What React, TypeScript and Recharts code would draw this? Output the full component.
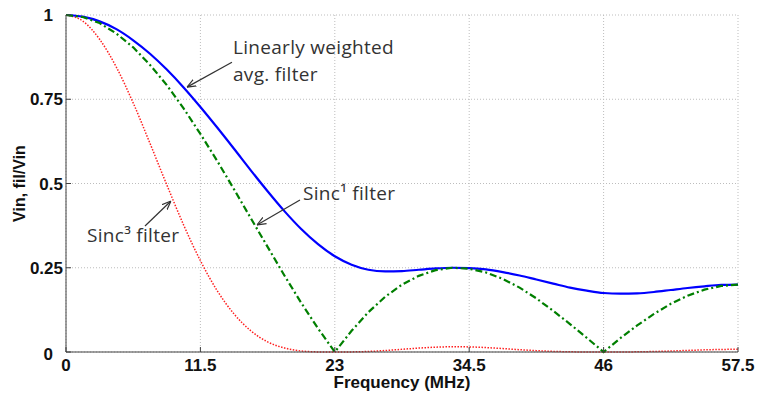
import React from 'react';
import { LineChart, Line, XAxis, YAxis, CartesianGrid, ReferenceLine } from 'recharts';

const freq = [0, 1.4375, 2.875, 4.3125, 5.75, 7.1875, 8.625, 10.0625, 11.5, 12.9375, 14.375, 15.8125, 17.25, 18.6875, 20.125, 21.5625, 23, 24.4375, 25.875, 27.3125, 28.75, 30.1875, 31.625, 33.0625, 34.5, 35.9375, 37.375, 38.8125, 40.25, 41.6875, 43.125, 44.5625, 46, 47.4375, 48.875, 50.3125, 51.75, 53.1875, 54.625, 56.0625, 57.5];
const linWeighted = [1, 0.995, 0.981, 0.958, 0.925, 0.885, 0.838, 0.785, 0.727, 0.666, 0.603, 0.539, 0.477, 0.418, 0.365, 0.32, 0.284, 0.259, 0.244, 0.239, 0.24, 0.244, 0.248, 0.25, 0.249, 0.245, 0.237, 0.227, 0.215, 0.203, 0.191, 0.182, 0.175, 0.173, 0.174, 0.178, 0.184, 0.19, 0.195, 0.199, 0.2];
const sinc1 = [1, 0.994, 0.976, 0.945, 0.904, 0.852, 0.792, 0.723, 0.647, 0.567, 0.483, 0.397, 0.312, 0.227, 0.146, 0.07, 0, 0.063, 0.118, 0.164, 0.2, 0.226, 0.243, 0.25, 0.247, 0.236, 0.217, 0.191, 0.159, 0.122, 0.083, 0.042, 0, 0.041, 0.079, 0.113, 0.143, 0.167, 0.185, 0.196, 0.2];
const sinc3 = [1, 0.982, 0.928, 0.845, 0.739, 0.619, 0.496, 0.377, 0.271, 0.182, 0.113, 0.063, 0.03, 0.012, 0.003, 0.0003, 0, 0.0003, 0.0016, 0.0044, 0.008, 0.0116, 0.0143, 0.0156, 0.0151, 0.0131, 0.0102, 0.0069, 0.004, 0.0018, 0.0006, 0.0001, 0, 0.0001, 0.0005, 0.0015, 0.0029, 0.0047, 0.0064, 0.0076, 0.008];

const xTicks = [0, 11.5, 23, 34.5, 46, 57.5];
const yTicks = [0, 0.25, 0.5, 0.75, 1];
const yTickLabels = ['0', '0.25', '0.5', '0.75', '1'];

const arrowLinear = [{ x: 14.2, y: 0.86 }, { x: 10.35, y: 0.786 }];
const arrowSinc1 = [{ x: 20.02, y: 0.451 }, { x: 16.34, y: 0.377 }];
const arrowSinc3 = [{ x: 6.76, y: 0.374 }, { x: 8.98, y: 0.448 }];

const data = freq.map((f, i) => ({ f, lin: linWeighted[i], s1: sinc1[i], s3: sinc3[i] }));

const AX = '#404040';
const TICK_FONT = { fontFamily: '"Liberation Sans", Arial, sans-serif', fontWeight: 700, fontSize: 17, fill: '#111' };
const ANNOT_FONT = { fontFamily: '"Open Sans", sans-serif', fontSize: 19, letterSpacing: 0.3, fill: '#333' };

const BottomTick = (props: any) => {
  const { x, y, payload } = props;
  return (
    <g>
      <line x1={x} y1={y} x2={x} y2={y - 5} stroke={AX} strokeWidth={1} />
      <text x={x} y={y + 19} textAnchor="middle" {...TICK_FONT}>{String(payload.value)}</text>
    </g>
  );
};

const TopTick = (props: any) => {
  const { x, y } = props;
  return <line x1={x} y1={y} x2={x} y2={y + 5} stroke={AX} strokeWidth={1} />;
};

const LeftTick = (props: any) => {
  const { x, y, payload, index } = props;
  const label = yTickLabels[index] ?? String(payload.value);
  const isInt = Number.isInteger(payload.value);
  return (
    <g>
      <line x1={x} y1={y} x2={x + 5} y2={y} stroke={AX} strokeWidth={1} />
      <text x={isInt ? x - 13 : x - 3} y={y + (isInt && payload.value === 0 ? 8 : 6)} textAnchor="end" {...TICK_FONT}>{label}</text>
    </g>
  );
};

const RightTick = (props: any) => {
  const { x, y } = props;
  return <line x1={x} y1={y} x2={x - 5} y2={y} stroke={AX} strokeWidth={1} />;
};

export default function App() {
  return (
    <div style={{ position: 'absolute', left: 0, top: 0, width: 759, height: 396, background: '#fff' }}>
      <svg width={0} height={0} style={{ position: 'absolute' }}>
        <defs>
          <marker id="arr" viewBox="0 0 10 10" refX="10" refY="5" markerWidth="9" markerHeight="9" orient="auto" markerUnits="userSpaceOnUse">
            <path d="M0,1 L10,5 L0,9" fill="none" stroke="#333" strokeWidth={1.3} />
          </marker>
        </defs>
      </svg>
      <LineChart width={759} height={396} data={data} margin={{ top: 15, right: 21, bottom: 0, left: 0 }}>
        <CartesianGrid stroke="#bdbdbd" strokeDasharray="1 2" />
        <XAxis
          dataKey="f"
          type="number"
          domain={[0, 57.5]}
          ticks={xTicks}
          height={44}
          tickSize={0}
          tickMargin={0}
          tickLine={false}
          stroke={AX}
          tick={<BottomTick />}
          interval={0}
          label={{
            content: (p: any) => {
              const vb = p.viewBox || { x: 66, y: 352, width: 672, height: 44 };
              return (
                <text x={vb.x + vb.width / 2} y={vb.y + 36} textAnchor="middle" {...TICK_FONT}>Frequency (MHz)</text>
              );
            },
          }}
        />
        <XAxis xAxisId="top" orientation="top" type="number" domain={[0, 57.5]} ticks={xTicks} height={0} tickSize={0} tickMargin={0} tickLine={false} stroke={AX} tick={<TopTick />} interval={0} />
        <YAxis
          type="number"
          domain={[0, 1]}
          ticks={yTicks}
          width={66}
          tickSize={0}
          tickMargin={0}
          tickLine={false}
          stroke={AX}
          tick={<LeftTick />}
          interval={0}
          label={{
            content: (p: any) => {
              const vb = p.viewBox || { x: 0, y: 15, width: 66, height: 337 };
              const cy = vb.y + vb.height / 2;
              return (
                <text x={25} y={cy} transform={`rotate(-90, 25, ${cy})`} textAnchor="middle" {...TICK_FONT} fontSize={16}>Vin, fil/Vin</text>
              );
            },
          }}
        />
        <YAxis yAxisId="right" orientation="right" type="number" domain={[0, 1]} ticks={yTicks} width={0} tickSize={0} tickMargin={0} tickLine={false} stroke={AX} tick={<RightTick />} interval={0} />
        <Line dataKey="s3" type="monotone" stroke="#ff2020" strokeWidth={1.5} strokeDasharray="1.5 1.5" dot={false} isAnimationActive={false} />
        <Line dataKey="lin" type="monotone" stroke="#0000ff" strokeWidth={2.2} dot={false} isAnimationActive={false} />
        <Line dataKey="s1" type="linear" stroke="#007f00" strokeWidth={2.2} strokeDasharray="7 3 2 3" dot={false} isAnimationActive={false} />
        <ReferenceLine segment={arrowLinear} stroke="#333" strokeWidth={1.2} markerEnd="url(#arr)" ifOverflow="visible" />
        <ReferenceLine segment={arrowSinc1} stroke="#333" strokeWidth={1.2} markerEnd="url(#arr)" ifOverflow="visible" />
        <ReferenceLine segment={arrowSinc3} stroke="#333" strokeWidth={1.2} markerEnd="url(#arr)" ifOverflow="visible" />
      </LineChart>
      <svg width={759} height={396} style={{ position: 'absolute', left: 0, top: 0, pointerEvents: 'none' }}>
        <text x={233} y={54} {...ANNOT_FONT}>Linearly weighted</text>
        <text x={233} y={81} {...ANNOT_FONT}>avg. filter</text>
        <text x={303} y={200} {...ANNOT_FONT}>Sinc¹ filter</text>
        <text x={87} y={242} {...ANNOT_FONT}>Sinc³ filter</text>
      </svg>
    </div>
  );
}
